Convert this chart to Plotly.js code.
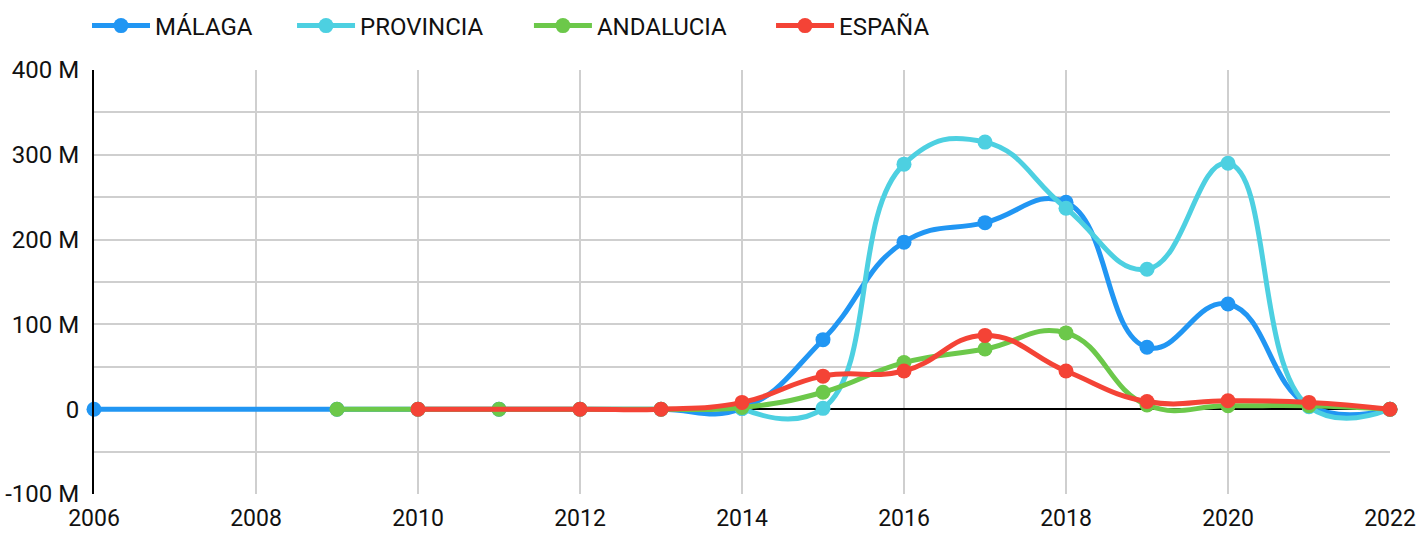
<!DOCTYPE html>
<html>
<head>
<meta charset="utf-8">
<script src="https://cdn.plot.ly/plotly-3.0.1.min.js"></script>
<style>html,body{margin:0;padding:0;background:#fff;}#chart{width:1421px;height:533px;}</style>
</head>
<body>
<div id="chart"></div>
<script>
const malagaYears = [2006, 2009, 2010, 2011, 2012, 2013, 2014, 2015, 2016, 2017, 2018, 2019, 2020, 2021, 2022];
const malagaValues = [0, 0, 0, 0, 0, 0, 1e6, 82e6, 197e6, 220e6, 244e6, 73e6, 124e6, 4e6, 0];

const provinciaYears = [2014, 2015, 2016, 2017, 2018, 2019, 2020, 2021, 2022];
const provinciaValues = [1e6, 1e6, 289e6, 315e6, 237e6, 165e6, 290e6, 3e6, 0];

const andaluciaYears = [2009, 2010, 2011, 2012, 2013, 2014, 2015, 2016, 2017, 2018, 2019, 2020, 2021, 2022];
const andaluciaValues = [0, 0, 0, 0, 0, 2e6, 20e6, 55e6, 71e6, 90e6, 5e6, 4e6, 4e6, 0];

const espanaYears = [2010, 2012, 2013, 2014, 2015, 2016, 2017, 2018, 2019, 2020, 2021, 2022];
const espanaValues = [0, 0, 0, 8e6, 39e6, 45e6, 87e6, 45e6, 9e6, 10e6, 8e6, 0];

const seriesNames = ['MÁLAGA', 'PROVINCIA', 'ANDALUCIA', 'ESPAÑA'];
const seriesColors = ['#2196f3', '#4dd0e1', '#6cc84a', '#f44336'];

const yTickVals = [-100e6, 0, 100e6, 200e6, 300e6, 400e6];
const yTickText = ['-100 M', '0', '100 M', '200 M', '300 M', '400 M'];

const xs = [malagaYears, provinciaYears, andaluciaYears, espanaYears];
const ys = [malagaValues, provinciaValues, andaluciaValues, espanaValues];
const legendIds = ['legend', 'legend2', 'legend3', 'legend4'];
const legendX = [-0.0054, 0.1528, 0.3356, 0.5224];

const traces = seriesNames.map((name, i) => ({
  type: 'scatter',
  mode: 'lines+markers',
  name: name,
  legend: legendIds[i],
  x: xs[i],
  y: ys[i],
  line: {color: seriesColors[i], width: 5, shape: 'spline', smoothing: 1.3},
  marker: {color: seriesColors[i], size: 15},
  cliponaxis: false
}));

const tickFont = {family: 'Roboto, sans-serif', size: 24, color: '#111'};

const layout = {
  width: 1421,
  height: 533,
  margin: {l: 94, r: 31, t: 70, b: 39, autoexpand: false},
  paper_bgcolor: '#fff',
  plot_bgcolor: '#fff',
  font: {family: 'Roboto, sans-serif', size: 24, color: '#111'},
  showlegend: true,
  xaxis: {
    range: [2006, 2022],
    tickmode: 'linear',
    tick0: 2006,
    dtick: 2,
    showgrid: true,
    gridcolor: '#cfcfcf',
    gridwidth: 2,
    zeroline: false,
    showline: false,
    ticks: '',
    ticklabelstandoff: 8,
    tickfont: {family: 'Roboto, sans-serif', size: 23, color: '#111'}
  },
  yaxis: {
    range: [-100e6, 400e6],
    tickmode: 'array',
    tickvals: yTickVals,
    ticktext: yTickText,
    showgrid: true,
    gridcolor: '#cfcfcf',
    gridwidth: 2,
    minor: {dtick: 50e6, tick0: 0, showgrid: true, gridcolor: '#cfcfcf', gridwidth: 2},
    zeroline: true,
    zerolinecolor: '#000',
    zerolinewidth: 2.5,
    showline: true,
    linecolor: '#000',
    linewidth: 2,
    ticks: '',
    ticklabelstandoff: 8,
    tickfont: tickFont
  }
};

legendIds.forEach((id, i) => {
  layout[id] = {
    orientation: 'h',
    x: legendX[i], xanchor: 'left',
    y: 1 + 44 / 424, yanchor: 'middle',
    font: {family: 'Roboto, sans-serif', size: 24, color: '#111'},
    itemwidth: 58,
    bgcolor: 'rgba(0,0,0,0)',
    borderwidth: 0
  };
});

Plotly.newPlot('chart', traces, layout, {displayModeBar: false, staticPlot: true});
</script>
</body>
</html>
